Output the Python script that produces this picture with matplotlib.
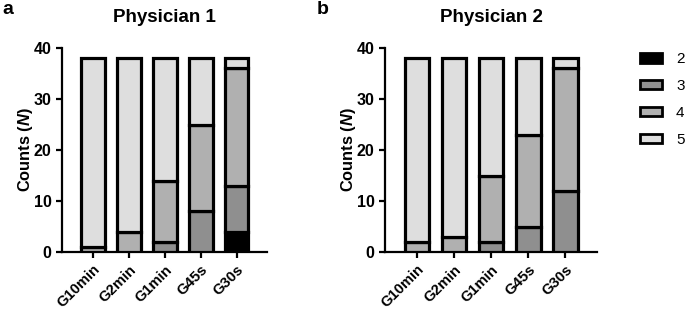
import matplotlib
matplotlib.use("Agg")
import matplotlib.pyplot as plt
import numpy as np
from matplotlib.patches import Patch

plt.rcParams['font.family'] = ['Liberation Sans', 'DejaVu Sans']
plt.rcParams['font.weight'] = 'bold'
plt.rcParams['mathtext.fontset'] = 'custom'
plt.rcParams['mathtext.it'] = 'Liberation Sans:italic:bold'
plt.rcParams['mathtext.rm'] = 'Liberation Sans:bold'

categories = ["G10min", "G2min", "G1min", "G45s", "G30s"]
scores = ["2", "3", "4", "5"]
colors = ["#000000", "#8f8f8f", "#b0b0b0", "#dedede"]

# Physician 1 counts per score
p1_s2 = [0, 0, 0, 0, 4]
p1_s3 = [0, 0, 2, 8, 9]
p1_s4 = [1, 4, 12, 17, 23]
p1_s5 = [37, 34, 24, 13, 2]

# Physician 2 counts per score
p2_s2 = [0, 0, 0, 0, 0]
p2_s3 = [0, 0, 2, 5, 12]
p2_s4 = [2, 3, 13, 18, 24]
p2_s5 = [36, 35, 23, 15, 2]

yticks = [0, 10, 20, 30, 40]

fig = plt.figure(figsize=(6.85, 3.1), dpi=100)
axA = fig.add_axes([0.0905, 0.187, 0.300, 0.658])
axB = fig.add_axes([0.562, 0.187, 0.310, 0.658])

def draw(ax, series, title):
    x = np.arange(len(categories))
    bottom = np.zeros(len(categories))
    for vals, c in zip(series, colors):
        vals = np.array(vals, dtype=float)
        mask = vals > 0
        ax.bar(x[mask], vals[mask], bottom=bottom[mask], width=0.66, color=c,
               edgecolor='black', linewidth=2.3, zorder=3)
        bottom += vals
    ax.set_xlim(-0.86, 4.86)
    ax.set_ylim(0, 40)
    ax.set_yticks(yticks)
    ax.set_xticks(x)
    ax.set_xticklabels(categories, rotation=45, ha='right', rotation_mode='anchor',
                       fontsize=10.7, fontweight='bold')
    for lab in ax.get_yticklabels():
        lab.set_fontsize(11.5)
        lab.set_fontweight('bold')
    for s in ['top', 'right']:
        ax.spines[s].set_visible(False)
    for s in ['left', 'bottom']:
        ax.spines[s].set_linewidth(1.6)
    ax.tick_params(axis='both', width=1.6, length=4, direction='out')
    ax.set_ylabel('Counts ($N$)', fontsize=11.8, fontweight='bold', labelpad=-1)
    ax.set_title(title, fontsize=13.5, fontweight='bold', pad=19)

draw(axA, [p1_s2, p1_s3, p1_s4, p1_s5], "Physician 1")
draw(axB, [p2_s2, p2_s3, p2_s4, p2_s5], "Physician 2")

fig.text(0.004, 0.955, "a", fontsize=14, fontweight='bold')
fig.text(0.463, 0.955, "b", fontsize=14, fontweight='bold')

handles = [Patch(facecolor=c, edgecolor='black', linewidth=2.0) for c in colors]
leg = fig.legend(handles, scores, loc='upper left', bbox_to_anchor=(0.93, 0.842),
                 frameon=False, fontsize=11, handlelength=1.45, handleheight=0.6,
                 labelspacing=0.85, handletextpad=0.9, borderaxespad=0, borderpad=0.2)
for t in leg.get_texts():
    t.set_fontweight('normal')

fig.savefig("out.png", dpi=100)
